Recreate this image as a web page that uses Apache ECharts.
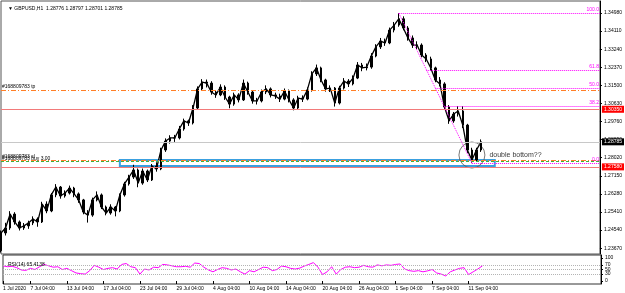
<!DOCTYPE html>
<html>
<head>
<meta charset="utf-8">
<script src="https://cdn.jsdelivr.net/npm/echarts@6/dist/echarts.min.js"></script>
<style>
    html, body { margin: 0; padding: 0; background: #fff; }
    #chart { width: 625px; height: 293px; }
</style>
</head>
<body>
<div id="chart"></div>
<script>
// GBPUSD H1, drawn as half-day bars (04:00 / 16:00)
var months = ['Jan', 'Feb', 'Mar', 'Apr', 'May', 'Jun', 'Jul', 'Aug', 'Sep', 'Oct', 'Nov', 'Dec'];
var sessions = ['04:00', '16:00'];
var xTickLabels = ['1 Jul 2020', '7 Jul 04:00', '13 Jul 04:00', '17 Jul 04:00', '23 Jul 04:00', '29 Jul 04:00',
    '4 Aug 04:00', '10 Aug 04:00', '14 Aug 04:00', '20 Aug 04:00', '26 Aug 04:00', '1 Sep 04:00',
    '7 Sep 04:00', '11 Sep 04:00'];
var yTicks = [1.34980, 1.34110, 1.33240, 1.32370, 1.31500, 1.30630, 1.29760, 1.28890,
    1.28020, 1.27150, 1.26280, 1.25410, 1.24540, 1.23670];
var rsiTicks = [0, 30, 50, 70, 100];
var rsiLevels = [70, 50, 30];

var firstOpen = 1.2355;
var closes = [
    1.2440, 1.2464, 1.2531, 1.2493, 1.2464, 1.2474, 1.2488, 1.2507, 1.2493, 1.2579,
    1.2546, 1.2623, 1.2661, 1.2618, 1.2632, 1.2656, 1.2628, 1.2599, 1.2541, 1.2526,
    1.2599, 1.2623, 1.2565, 1.2536, 1.2565, 1.2546, 1.2623, 1.2676, 1.2709, 1.2743,
    1.2680, 1.2738, 1.2695, 1.2762, 1.2748, 1.2839, 1.2882, 1.2897, 1.2897, 1.2940,
    1.2979, 1.2969, 1.3041, 1.3133, 1.3166, 1.3161, 1.3118, 1.3104, 1.3142, 1.3094,
    1.3060, 1.3104, 1.3080, 1.3161, 1.3118, 1.3075, 1.3075, 1.3118, 1.3133, 1.3104,
    1.3099, 1.3084, 1.3123, 1.3080, 1.3041, 1.3089, 1.3084, 1.3128, 1.3205, 1.3234,
    1.3176, 1.3133, 1.3137, 1.3065, 1.3137, 1.3171, 1.3157, 1.3185, 1.3248, 1.3234,
    1.3238, 1.3291, 1.3335, 1.3363, 1.3354, 1.3416, 1.3440, 1.3470, 1.3426, 1.3378,
    1.3344, 1.3344, 1.3296, 1.3277, 1.3234, 1.3176, 1.3157, 1.3046, 1.2979, 1.3012,
    1.3027, 1.2959, 1.2839, 1.2791, 1.2839, 1.28785
];
var lows = [
    1.2346, 1.2428, 1.2455, 1.2480, 1.2452, 1.2455, 1.2460, 1.2478, 1.2470, 1.2488,
    1.2535, 1.2540, 1.2612, 1.2605, 1.2610, 1.2625, 1.2612, 1.2585, 1.2530, 1.2490,
    1.2518, 1.2592, 1.2555, 1.2525, 1.2528, 1.2520, 1.2540, 1.2615, 1.2668, 1.2700,
    1.2660, 1.2672, 1.2685, 1.2690, 1.2735, 1.2742, 1.2830, 1.2870, 1.2878, 1.2890,
    1.2932, 1.2955, 1.2962, 1.3035, 1.3125, 1.3140, 1.3105, 1.3090, 1.3098, 1.3080,
    1.3040, 1.3052, 1.3068, 1.3075, 1.3105, 1.3062, 1.3058, 1.3068, 1.3108, 1.3092,
    1.3085, 1.3070, 1.3078, 1.3068, 1.3030, 1.3035, 1.3070, 1.3078, 1.3120, 1.3195,
    1.3165, 1.3120, 1.3118, 1.3048, 1.3058, 1.3130, 1.3142, 1.3150, 1.3180, 1.3218,
    1.3222, 1.3230, 1.3285, 1.3325, 1.3340, 1.3348, 1.3405, 1.3432, 1.3415, 1.3365,
    1.3330, 1.3325, 1.3285, 1.3262, 1.3220, 1.3165, 1.3145, 1.3035, 1.2965, 1.2970,
    1.3000, 1.2945, 1.2825, 1.2776, 1.2785, 1.2830
];
var highs = [
    1.2452, 1.2489, 1.2545, 1.2540, 1.2500, 1.2488, 1.2499, 1.2520, 1.2515, 1.2590,
    1.2592, 1.2632, 1.2675, 1.2666, 1.2645, 1.2668, 1.2662, 1.2635, 1.2604, 1.2550,
    1.2610, 1.2640, 1.2630, 1.2572, 1.2578, 1.2570, 1.2630, 1.2686, 1.2720, 1.2768,
    1.2750, 1.2750, 1.2745, 1.2772, 1.2780, 1.2850, 1.2895, 1.2910, 1.2912, 1.2955,
    1.2990, 1.2985, 1.3055, 1.3145, 1.3180, 1.3178, 1.3170, 1.3125, 1.3155, 1.3150,
    1.3100, 1.3115, 1.3112, 1.3178, 1.3168, 1.3125, 1.3090, 1.3130, 1.3150, 1.3140,
    1.3115, 1.3110, 1.3135, 1.3130, 1.3088, 1.3100, 1.3102, 1.3140, 1.3218, 1.3250,
    1.3240, 1.3182, 1.3150, 1.3142, 1.3148, 1.3185, 1.3180, 1.3198, 1.3262, 1.3258,
    1.3255, 1.3305, 1.3348, 1.3378, 1.3375, 1.3428, 1.3455, 1.3498, 1.3482, 1.3435,
    1.3390, 1.3362, 1.3352, 1.3305, 1.3288, 1.3240, 1.3190, 1.3165, 1.3055, 1.3022,
    1.3050, 1.3050, 1.2965, 1.2850, 1.2850, 1.2890
];
var rsi = [
    66, 62, 64, 58, 48, 46, 55, 50, 62, 72,
    66, 60, 62, 50, 55, 45, 35, 32, 30, 45,
    68, 60, 50, 55, 58, 52, 72, 76, 62, 58,
    30, 52, 48, 60, 58, 72, 70, 66, 62, 62,
    64, 60, 78, 76, 60, 48, 40, 50, 58, 55,
    48, 52, 40, 30, 45, 40, 50, 60, 58, 45,
    50, 65, 62, 55, 52, 56, 65, 72, 80, 60,
    28, 40, 62, 30, 50, 60, 62, 58, 60, 68,
    62, 60, 70, 66, 70, 68, 72, 74, 52, 45,
    42, 45, 40, 44, 50, 35, 30, 22, 40, 48,
    55, 58, 28, 40, 52, 65.4138
];

// trade lines
var ticket = '#168809783';
var tpPrice = 1.31277;
var slPrice = 1.27886;
var entryPrice = 1.27828;
var resistPrice = 1.30350;
var bidPrice = 1.28785;
var supportPrice = 1.27580;
var zoneTop = 1.27910, zoneBottom = 1.27621;
// fibo
var fibHigh = 1.34980, fibLow = 1.27762;
var fibLevels = [100, 61.8, 50, 38.2, 0];
var fibHighBar = 87, fibLowBar = 103;
var circlePrice = 1.2815;
var noteText = 'double bottom??';

var headerText = '\u25BC GBPUSD,H1  1.28776 1.28797 1.28701 1.28785';
var rsiText = 'RSI(14) 65.4138';

// categories: trading days, two bars per day
var categories = [];
var day = new Date(Date.UTC(2020, 6, 2));
while (categories.length < 132) {
    var wd = day.getUTCDay();
    if (wd !== 0 && wd !== 6) {
        sessions.forEach(function (h) {
            categories.push(day.getUTCDate() + ' ' + months[day.getUTCMonth()] + ' ' + h);
        });
    }
    day.setUTCDate(day.getUTCDate() + 1);
}
categories[0] = xTickLabels[0];
var lastIdx = categories.length - 1;

var candles = closes.map(function (c, i) {
    var o = i === 0 ? firstOpen : closes[i - 1];
    return [o, c, lows[i], highs[i]];
});

var small = { fontFamily: 'Liberation Sans', fontSize: 5, color: '#000' };

function priceTag(v, bg) {
    return {
        yAxis: v,
        lineStyle: { color: bg === '#000' ? '#c8c8c8' : '#f27a7a', type: 'solid', width: 1 },
        label: {
            show: true, position: 'end', distance: 2,
            formatter: v.toFixed(5),
            backgroundColor: bg, color: '#fff', padding: [1, 2],
            fontFamily: 'Liberation Sans', fontSize: 5
        }
    };
}

var fibLines = fibLevels.map(function (lv) {
    var p = fibLow + (fibHigh - fibLow) * lv / 100;
    var startBar = fibHighBar + (fibLowBar - fibHighBar) * (1 - lv / 100);
    return [
        { coord: [startBar, p], lineStyle: { color: '#ff00ff', type: 'dotted', width: 1 },
          label: { show: true, position: 'insideEndTop', distance: 1, formatter: lv.toFixed(1),
                   color: '#ff00ff', fontFamily: 'Liberation Sans', fontSize: 5 } },
        { coord: [lastIdx, p] }
    ];
});

var option = {
    animation: false,
    backgroundColor: '#fff',
    title: [
        { text: headerText, left: 3, top: 1, textStyle: { fontFamily: 'Liberation Sans', fontSize: 5, fontWeight: 'normal', color: '#000' } },
        { text: rsiText, left: 3, top: 257, textStyle: { fontFamily: 'Liberation Sans', fontSize: 5, fontWeight: 'normal', color: '#000' } }
    ],
    grid: [
        { left: 1, top: 1, width: 600, height: 253, show: true, borderColor: '#555', borderWidth: 1 },
        { left: 1, top: 255, width: 600, height: 29, show: true, borderColor: '#333', borderWidth: 1 }
    ],
    xAxis: [
        { type: 'category', gridIndex: 0, data: categories, boundaryGap: false, show: false },
        {
            type: 'category', gridIndex: 1, data: categories, boundaryGap: false,
            axisLine: { show: false },
            axisTick: { length: 3, lineStyle: { color: '#000' },
                interval: function (i, v) { return xTickLabels.indexOf(v) !== -1; } },
            axisLabel: Object.assign({ align: 'left', margin: 2,
                interval: function (i, v) { return xTickLabels.indexOf(v) !== -1; } }, small)
        }
    ],
    yAxis: [
        {
            type: 'value', gridIndex: 0, position: 'right', min: 1.23389, max: 1.35558,
            splitLine: { show: false },
            axisLine: { show: true, lineStyle: { color: '#000' } },
            axisTick: { show: true, length: 2, customValues: yTicks, lineStyle: { color: '#000' } },
            axisLabel: Object.assign({ customValues: yTicks, margin: 4,
                formatter: function (v) { return v.toFixed(5); } }, small)
        },
        {
            type: 'value', gridIndex: 1, position: 'right', min: -13, max: 113,
            splitLine: { show: false },
            axisLine: { show: true, lineStyle: { color: '#000' } },
            axisTick: { show: true, length: 2, customValues: rsiTicks, lineStyle: { color: '#000' } },
            axisLabel: Object.assign({ customValues: rsiTicks, margin: 4 }, small)
        }
    ],
    series: [
        {
            // close path, ties the bars into one trace like MT4's dense bar chart
            type: 'line', xAxisIndex: 0, yAxisIndex: 0, data: closes,
            symbol: 'none', lineStyle: { color: '#000', width: 1.3 }, z: 2
        },
        {
            type: 'candlestick', xAxisIndex: 0, yAxisIndex: 0,
            data: candles, barWidth: 2, clip: false, z: 3,
            itemStyle: { color: '#000', color0: '#000', borderColor: '#000', borderColor0: '#000', borderWidth: 1 },
            markLine: {
                silent: true, symbol: 'none', precision: 5,
                data: [
                    { yAxis: tpPrice, lineStyle: { color: '#ff7f27', type: [5, 2, 1, 2], width: 1 },
                      label: Object.assign({ show: true, position: 'insideStartTop', distance: 1, formatter: ticket + ' tp' }, small) },
                    priceTag(resistPrice, '#ff0000'),
                    priceTag(bidPrice, '#000'),
                    { yAxis: slPrice, lineStyle: { color: '#ff7f27', type: [5, 2, 1, 2], width: 1 },
                      label: Object.assign({ show: true, position: 'insideStartTop', distance: 1, formatter: ticket + ' sl' }, small) },
                    { yAxis: entryPrice, lineStyle: { color: '#3cb043', type: [3, 2], width: 1 },
                      label: Object.assign({ show: true, position: 'insideStartTop', distance: 1, formatter: ticket + ' buy 3.00' }, small) },
                    priceTag(supportPrice, '#ff0000')
                ].concat(fibLines).concat([
                    [{ coord: [fibHighBar, fibHigh], lineStyle: { color: '#ff00ff', type: 'dotted', width: 1 }, label: { show: false } },
                     { coord: [fibLowBar, fibLow] }]
                ])
            },
            markArea: {
                silent: true,
                data: [[
                    { coord: [26, zoneTop], itemStyle: { color: 'rgba(0,0,0,0)', borderColor: '#3aa0e0', borderWidth: 2 } },
                    { coord: [108, zoneBottom] }
                ]]
            }
        },
        {
            type: 'scatter', xAxisIndex: 0, yAxisIndex: 0,
            data: [[fibLowBar, circlePrice]], symbolSize: 26,
            itemStyle: { color: 'rgba(0,0,0,0)', borderColor: '#555', borderWidth: 1 },
            label: { show: true, position: 'right', distance: 4, formatter: noteText,
                     fontFamily: 'Liberation Sans', fontSize: 7, color: '#000' }
        },
        {
            type: 'line', xAxisIndex: 1, yAxisIndex: 1, data: rsi,
            symbol: 'none', lineStyle: { color: '#ff00ff', width: 1 },
            markLine: {
                silent: true, symbol: 'none', label: { show: false },
                lineStyle: { color: '#b4b4b4', type: 'dotted', width: 1 },
                data: rsiLevels.map(function (v) { return { yAxis: v }; })
            }
        }
    ]
};

var myChart = echarts.init(document.getElementById('chart'));
myChart.setOption(option);
window.onresize = function () { myChart.resize(); };
</script>
</body>
</html>
